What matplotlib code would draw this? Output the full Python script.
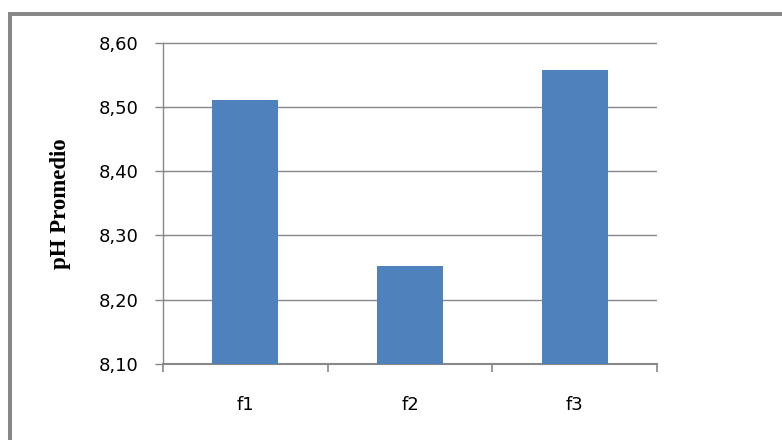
import matplotlib
matplotlib.use("Agg")
import matplotlib.pyplot as plt
from matplotlib.lines import Line2D

categories = ["f1", "f2", "f3"]
ph_mean = [8.510, 8.253, 8.558]
y_ticks = [8.10, 8.20, 8.30, 8.40, 8.50, 8.60]
y_tick_labels = ["8,10", "8,20", "8,30", "8,40", "8,50", "8,60"]

W, H = 782, 440
fig = plt.figure(figsize=(W / 100, H / 100), dpi=100)
fig.patch.set_facecolor("white")

# plot area in pixel coordinates
left, right, top, bottom = 163, 657, 42.5, 364
ax = fig.add_axes([left / W, 1 - bottom / H, (right - left) / W, (bottom - top) / H])

grey = "#888888"
base = y_ticks[0]
x = list(range(len(categories)))
ax.bar(x, [v - base for v in ph_mean], bottom=base, width=0.4, color="#4F81BD", zorder=3)

ax.set_xlim(-0.5, len(categories) - 0.5)
ax.set_ylim(y_ticks[0], y_ticks[-1])

# horizontal gridlines
ax.set_yticks(y_ticks)
ax.set_yticklabels(y_tick_labels, fontfamily="DejaVu Sans", fontsize=13)
ax.yaxis.grid(True, color=grey, linewidth=1.0, zorder=0)
ax.set_axisbelow(True)

# category boundaries as tick marks, labels centred on bars
ax.set_xticks([i - 0.5 for i in range(len(categories) + 1)])
ax.set_xticklabels([])
ax.set_xticks(x, minor=True)
ax.set_xticklabels(categories, minor=True, fontfamily="DejaVu Sans", fontsize=13)
ax.tick_params(axis="x", which="minor", length=0, pad=23)
ax.tick_params(axis="x", which="major", length=6, width=1.2, color=grey, direction="out")
ax.tick_params(axis="y", length=5.5, width=1.0, color=grey, direction="out", pad=12)

for side in ("top", "right"):
    ax.spines[side].set_visible(False)
for side in ("left", "bottom"):
    ax.spines[side].set_color(grey)
ax.spines["left"].set_linewidth(1.0)
ax.spines["bottom"].set_linewidth(1.5)

ax.set_ylabel("pH Promedio", fontfamily="Liberation Serif", fontweight="bold", fontsize=16.5)
ax.yaxis.set_label_coords((71 - left) / (right - left), 0.5)

# outer chart frame (top and left edges)
frame = "#878787"
fig.add_artist(Line2D([8 / W, 1.0], [1 - 14 / H, 1 - 14 / H], transform=fig.transFigure,
                      color=frame, linewidth=2.9, solid_capstyle="butt"))
fig.add_artist(Line2D([10 / W, 10 / W], [1 - 12 / H, 0.0], transform=fig.transFigure,
                      color=frame, linewidth=2.9, solid_capstyle="butt"))

fig.savefig("out.png", dpi=100)
